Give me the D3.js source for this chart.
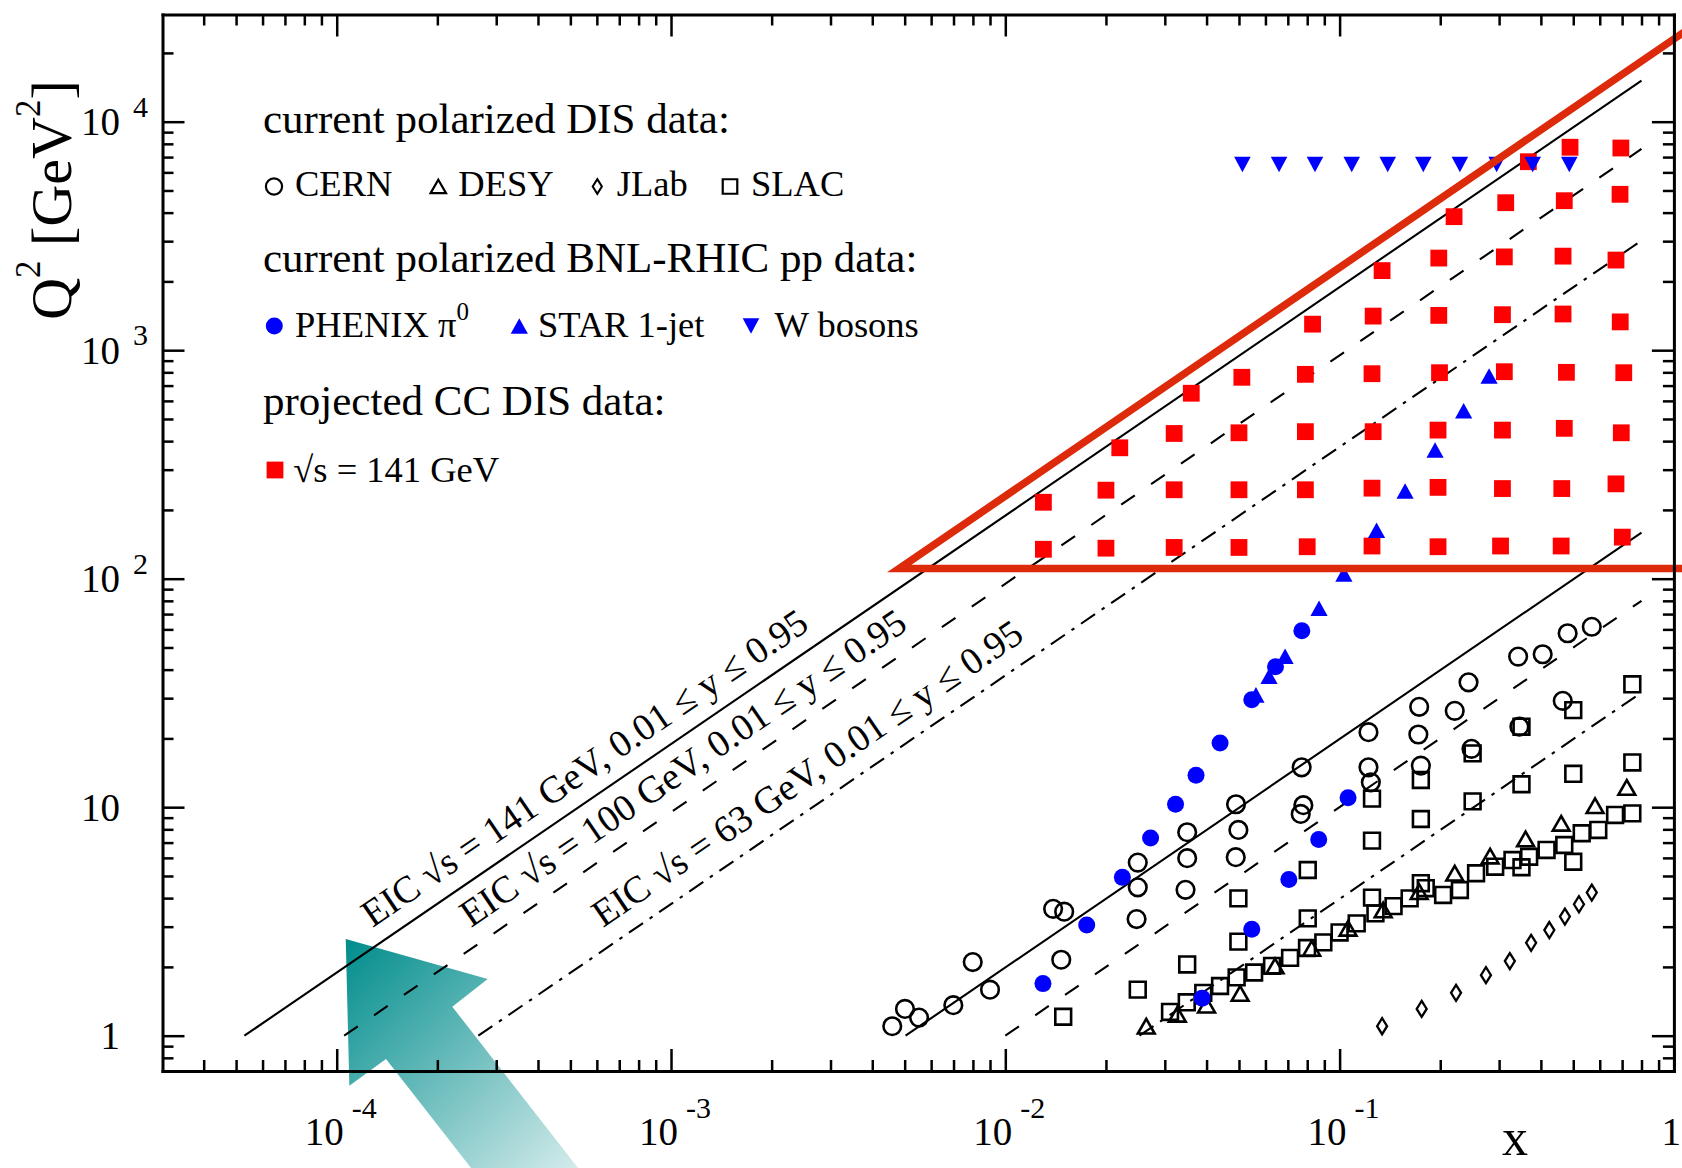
<!DOCTYPE html>
<html>
<head>
<meta charset="utf-8">
<script src="https://cdnjs.cloudflare.com/ajax/libs/d3/7.8.5/d3.min.js"></script>
<style>
body { margin: 0; background: #fff; }
svg text { font-family: "Liberation Serif", "Times New Roman", serif; fill: #000; }
</style>
</head>
<body>
<div id="chart"></div>
<script>
// values, each point is [x, Q^2 in GeV^2]
var cern = [
    [0.00459, 1.10], [0.00501, 1.31], [0.00552, 1.20], [0.00699, 1.36], [0.00799, 2.10], [0.0090, 1.59],
    [0.0139, 3.59], [0.0150, 3.49], [0.0147, 2.15],
    [0.0249, 5.72], [0.0249, 4.46], [0.0247, 3.24],
    [0.0350, 7.77], [0.0350, 5.98], [0.0346, 4.35],
    [0.0490, 10.3], [0.0498, 7.95], [0.0489, 6.04],
    [0.0770, 14.95], [0.0779, 10.2], [0.0765, 9.34],
    [0.122, 21.3], [0.122, 14.95], [0.124, 12.85],
    [0.173, 27.5], [0.172, 20.8], [0.175, 15.2],
    [0.243, 35.2], [0.221, 26.4], [0.248, 18.0],
    [0.342, 45.6], [0.405, 46.7], [0.345, 22.5],
    [0.481, 57.7], [0.568, 61.6], [0.465, 29.2]
];

var desy = [
    [0.0264, 1.10], [0.0327, 1.24], [0.0400, 1.36], [0.0504, 1.53], [0.0641, 2.02],
    [0.0825, 2.41], [0.106, 2.95], [0.135, 3.55], [0.173, 4.27], [0.221, 5.14],
    [0.282, 6.11], [0.360, 7.26], [0.460, 8.50], [0.581, 10.15], [0.723, 12.2]
];

var jlab = [
    [0.134, 1.10], [0.176, 1.31], [0.223, 1.54], [0.274, 1.84], [0.323, 2.12],
    [0.374, 2.55], [0.424, 2.90], [0.472, 3.32], [0.520, 3.76], [0.568, 4.23]
];

var slac = [
    [0.0149, 1.21], [0.0249, 1.59], [0.0350, 2.05], [0.0498, 2.58], [0.0498, 3.99],
    [0.0803, 5.31], [0.0803, 3.26], [0.125, 10.9], [0.125, 7.14], [0.125, 4.02],
    [0.175, 13.15], [0.175, 8.88], [0.175, 4.65], [0.250, 17.2], [0.250, 10.6],
    [0.350, 22.5], [0.350, 12.6], [0.350, 5.46], [0.500, 26.6], [0.500, 14.0],
    [0.500, 5.77], [0.751, 34.5], [0.751, 15.7],
    [0.0311, 1.27], [0.0349, 1.40], [0.0391, 1.54], [0.0439, 1.65], [0.0492, 1.80],
    [0.0555, 1.89], [0.0628, 2.02], [0.0711, 2.19], [0.0799, 2.42], [0.0894, 2.56],
    [0.100, 2.83], [0.1125, 3.10], [0.128, 3.43], [0.145, 3.69], [0.162, 3.99],
    [0.181, 4.42], [0.204, 4.13], [0.229, 4.34], [0.256, 5.14], [0.292, 5.49],
    [0.329, 5.87], [0.369, 6.07], [0.416, 6.50], [0.470, 6.83], [0.530, 7.69],
    [0.594, 7.95], [0.667, 9.25], [0.751, 9.40]
];

var phenix = [
    [0.01296, 1.69], [0.01752, 3.05], [0.0224, 4.93], [0.0272, 7.33], [0.0323, 10.3],
    [0.0372, 13.8], [0.0439, 19.1], [0.0546, 29.5], [0.0643, 41.2], [0.0771, 59.2],
    [0.0388, 1.46], [0.0546, 2.92], [0.0705, 4.82], [0.0866, 7.22], [0.106, 11.0]
];

var star = [
    [0.0562, 31.0], [0.0615, 37.4], [0.0687, 45.8], [0.0868, 74.2], [0.103, 105],
    [0.129, 163], [0.157, 242], [0.193, 366], [0.235, 543], [0.280, 771]
];

var wBosonX = [0.0512, 0.0659, 0.0844, 0.1087, 0.1393, 0.178, 0.229, 0.295, 0.378, 0.4865];
var wBosonQ2 = 6500;

var cc141 = [
    [0.489, 7730], [0.694, 7670],
    [0.367, 6680],
    [0.314, 4420], [0.470, 4510], [0.690, 4810],
    [0.220, 3840],
    [0.198, 2530], [0.311, 2560], [0.466, 2580], [0.671, 2480],
    [0.134, 2230],
    [0.083, 1300], [0.126, 1410], [0.198, 1420], [0.307, 1430], [0.466, 1440], [0.691, 1330],
    [0.051, 761], [0.079, 784], [0.125, 789], [0.199, 797], [0.311, 805], [0.477, 800], [0.708, 797],
    [0.036, 648],
    [0.032, 432], [0.050, 435], [0.079, 440], [0.126, 440], [0.197, 447], [0.307, 447], [0.470, 455], [0.696, 435],
    [0.022, 374],
    [0.020, 244], [0.032, 245], [0.050, 245], [0.079, 245], [0.125, 249], [0.197, 251], [0.307, 248], [0.462, 248], [0.671, 260],
    [0.013, 216],
    [0.013, 134.5], [0.020, 136], [0.032, 137], [0.050, 137], [0.080, 138], [0.125, 139], [0.197, 138], [0.303, 139], [0.460, 139], [0.701, 152]
];

// EIC kinematic limits Q2 = s x y
var sqrtS = [141, 100, 63];
var yCuts = [0.01, 0.95];
var xLineEnd = 0.8;
var eicLabels = [
    "EIC \u221As = 141 GeV, 0.01 \u2264 y \u2264 0.95",
    "EIC \u221As = 100 GeV, 0.01 \u2264 y \u2264 0.95",
    "EIC \u221As = 63 GeV, 0.01 \u2264 y \u2264 0.95"
];
var eicLabelX = [1.28e-4, 2.52e-4, 6.26e-4];
var eicLabelQ2 = 2.96;

// red region drawn by hand on the figure
var regionSlope = 23000;
var regionQ2Min = 110.7;
var regionXEnd = 1.1;

// big teal arrow (outline in data space)
var arrowX = [1.064e-4, 2.829e-4, 2.217e-4, 6.26e-4, 2.996e-4, 1.404e-4, 1.091e-4];
var arrowQ2 = [2.65, 1.77, 1.339, 0.191, 0.191, 0.791, 0.604];

var xTickVals = [1e-4, 1e-3, 1e-2, 1e-1, 1];
var xTickExp = ["-4", "-3", "-2", "-1", ""];
var yTickVals = [1, 10, 100, 1000, 10000];
var yTickBase = ["1", "10", "10", "10", "10"];
var yTickExp = ["", "", "2", "3", "4"];

var legendHeaders = ["current polarized DIS data:", "current polarized BNL-RHIC pp data:", "projected CC DIS data:"];
var legendDis = ["CERN", "DESY", "JLab", "SLAC"];
var legendRhic = ["PHENIX \u03C0", "STAR 1-jet", "W bosons"];
var legendCC = ["\u221As = 141 GeV"];


KinematicPlot = function(_parent) {
    this.parent = _parent;
    this.init();
}

KinematicPlot.prototype.init = function() {
    var vis = this;
    vis.width = 1682;
    vis.height = 1168;

    vis.svg = d3.select(vis.parent).append("svg")
        .attr("width", vis.width)
        .attr("height", vis.height);

    vis.x = d3.scaleLog().domain([3.012e-5, 1]).range([162.5, 1673.9]);
    vis.y = d3.scaleLog().domain([0.7006, 29450]).range([1071, 14.5]);

    vis.drawArrow();
    vis.drawLines();
    vis.drawPoints();
    vis.drawRegion();
    vis.drawAxes();
    vis.drawLegend();
}

KinematicPlot.prototype.markerPath = function(type) {
    var p = d3.path();
    if (type == "circle") {
        p.moveTo(8.8, 0); p.arc(0, 0, 8.8, 0, 2 * Math.PI);
    } else if (type == "dot") {
        p.moveTo(8.5, 0); p.arc(0, 0, 8.5, 0, 2 * Math.PI);
    } else if (type == "square") {
        p.rect(-7.9, -7.9, 15.8, 15.8);
    } else if (type == "block") {
        p.rect(-8.4, -8.4, 16.8, 16.8);
    } else if (type == "tri") {
        p.moveTo(0, -7.3); p.lineTo(8.4, 7.3); p.lineTo(-8.4, 7.3); p.closePath();
    } else if (type == "triFill") {
        p.moveTo(0, -7.8); p.lineTo(8.6, 7.8); p.lineTo(-8.6, 7.8); p.closePath();
    } else if (type == "triDown") {
        p.moveTo(-8.3, -7.8); p.lineTo(8.3, -7.8); p.lineTo(0, 7.8); p.closePath();
    } else if (type == "diamond") {
        p.moveTo(0, -8); p.lineTo(5, 0); p.lineTo(0, 8); p.lineTo(-5, 0); p.closePath();
    }
    return p.toString();
}

KinematicPlot.prototype.styleMarker = function(sel, s) {
    sel.attr("d", this.markerPath(s.type))
        .style("fill", s.fill)
        .style("stroke", s.stroke)
        .style("stroke-width", s.strokeWidth);
}

KinematicPlot.prototype.drawArrow = function() {
    var vis = this;
    var pts = arrowX.map(function(d, i) { return [vis.x(d), vis.y(arrowQ2[i])]; });

    var grad = vis.svg.append("defs").append("linearGradient")
        .attr("id", "arrowGrad")
        .attr("gradientUnits", "userSpaceOnUse")
        .attr("x1", pts[0][0]).attr("y1", pts[0][1])
        .attr("x2", pts[3][0]).attr("y2", pts[3][1]);
    grad.append("stop").attr("offset", 0).attr("stop-color", "#008c8c");
    grad.append("stop").attr("offset", 1).attr("stop-color", "#eef7f7");

    vis.svg.append("path")
        .attr("d", d3.line()(pts) + "Z")
        .style("fill", "url(#arrowGrad)")
        .style("stroke", "none");
}

KinematicPlot.prototype.drawLines = function() {
    var vis = this;
    var dashes = ["none", "16.5,19.7", "17,8,3.5,8"];
    var line = d3.line()
        .x(function(d) { return vis.x(d[0]); })
        .y(function(d) { return vis.y(d[1]); });
    var g = vis.svg.append("g");

    sqrtS.forEach(function(rs, i) {
        var s = rs * rs;
        yCuts.forEach(function(yc) {
            var pts = [[1 / (s * yc), 1], [xLineEnd, s * yc * xLineEnd]];
            g.append("path")
                .attr("d", line(pts))
                .style("fill", "none")
                .style("stroke", "#000")
                .style("stroke-width", 2.1)
                .style("stroke-dasharray", dashes[i]);
        });
    });

    // labels run parallel to the lines
    var angle = Math.atan2(vis.y(10) - vis.y(1), vis.x(1e-3) - vis.x(1e-4)) * 180 / Math.PI;
    eicLabels.forEach(function(t, i) {
        g.append("text")
            .attr("transform", "translate(" + vis.x(eicLabelX[i]) + "," + vis.y(eicLabelQ2) + ") rotate(" + angle + ")")
            .style("font-size", "38px")
            .text(t);
    });
}

KinematicPlot.prototype.drawPoints = function() {
    var vis = this;
    var series = [
        {data: slac, type: "square", fill: "none", stroke: "#000", strokeWidth: 2.6},
        {data: cern, type: "circle", fill: "none", stroke: "#000", strokeWidth: 2.6},
        {data: desy, type: "tri", fill: "none", stroke: "#000", strokeWidth: 2.6},
        {data: jlab, type: "diamond", fill: "none", stroke: "#000", strokeWidth: 2.3},
        {data: cc141, type: "block", fill: "#ff0000", stroke: "none", strokeWidth: 0},
        {data: star, type: "triFill", fill: "#0000ff", stroke: "none", strokeWidth: 0},
        {data: phenix, type: "dot", fill: "#0000ff", stroke: "none", strokeWidth: 0},
        {data: wBosonX.map(function(d) { return [d, wBosonQ2]; }), type: "triDown", fill: "#0000ff", stroke: "none", strokeWidth: 0}
    ];

    series.forEach(function(s) {
        vis.svg.append("g").selectAll("path")
            .data(s.data)
            .enter()
            .append("path")
            .attr("transform", function(d) { return "translate(" + vis.x(d[0]) + "," + vis.y(d[1]) + ")"; })
            .call(function(sel) { vis.styleMarker(sel, s); });
    });
}

KinematicPlot.prototype.drawRegion = function() {
    var vis = this;
    var corner = regionQ2Min / regionSlope;
    var pts = [
        [vis.x(regionXEnd), vis.y(regionSlope * regionXEnd)],
        [vis.x(corner), vis.y(regionQ2Min)],
        [vis.x(regionXEnd), vis.y(regionQ2Min)]
    ];
    vis.svg.append("path")
        .attr("d", d3.line()(pts))
        .style("fill", "none")
        .style("stroke", "#dd2a0a")
        .style("stroke-width", 7.5)
        .style("stroke-linejoin", "miter");
}

KinematicPlot.prototype.drawAxes = function() {
    var vis = this;
    var xr = vis.x.range(), yr = vis.y.range();
    var xTicks = vis.x.ticks();
    var yTicks = vis.y.ticks();

    function tickLen(d) {
        var l = Math.log10(d);
        return Math.abs(l - Math.round(l)) < 1e-6 ? 22 : 11;
    }

    var axes = [
        {axis: d3.axisBottom(vis.x).tickValues(xTicks), pos: "translate(0," + yr[0] + ")", attr: "y2", sign: -1},
        {axis: d3.axisTop(vis.x).tickValues(xTicks), pos: "translate(0," + yr[1] + ")", attr: "y2", sign: 1},
        {axis: d3.axisLeft(vis.y).tickValues(yTicks), pos: "translate(" + xr[0] + ",0)", attr: "x2", sign: 1},
        {axis: d3.axisRight(vis.y).tickValues(yTicks), pos: "translate(" + xr[1] + ",0)", attr: "x2", sign: -1}
    ];

    axes.forEach(function(a) {
        var g = vis.svg.append("g")
            .attr("transform", a.pos)
            .call(a.axis.tickFormat("").tickSizeOuter(0));
        g.select(".domain").style("stroke", "#000").style("stroke-width", 3).style("stroke-linecap", "square");
        g.selectAll(".tick line")
            .attr(a.attr, function(d) { return a.sign * tickLen(d); })
            .style("stroke", "#000")
            .style("stroke-width", 2.5);
    });

    // tick labels, 10 with a raised exponent
    var lab = vis.svg.append("g");
    xTickVals.forEach(function(v, i) {
        var px = vis.x(v);
        if (xTickExp[i] == "") {
            // last label sits on the page edge, keep it inside
            lab.append("text")
                .attr("x", Math.min(px + 9, vis.width - 1))
                .attr("y", 1145)
                .attr("text-anchor", "end")
                .style("font-size", "39px")
                .text("1");
        } else {
            lab.append("text")
                .attr("x", px + 7)
                .attr("y", 1145)
                .attr("text-anchor", "end")
                .style("font-size", "39px")
                .text("10");
            lab.append("text")
                .attr("x", px + 15)
                .attr("y", 1118)
                .style("font-size", "30px")
                .text(xTickExp[i]);
        }
    });

    yTickVals.forEach(function(v, i) {
        var py = vis.y(v);
        lab.append("text")
            .attr("x", 120)
            .attr("y", py + 13.5)
            .attr("text-anchor", "end")
            .style("font-size", "39px")
            .text(yTickBase[i]);
        if (yTickExp[i] != "") {
            lab.append("text")
                .attr("x", 133)
                .attr("y", py - 5)
                .style("font-size", "30px")
                .text(yTickExp[i]);
        }
    });

    lab.append("text")
        .attr("x", 1515)
        .attr("y", 1155)
        .attr("text-anchor", "middle")
        .style("font-size", "52px")
        .text("x");

    var yt = lab.append("text")
        .attr("transform", "translate(71,200) rotate(-90)")
        .attr("text-anchor", "middle")
        .style("font-size", "58px");
    yt.append("tspan").text("Q");
    yt.append("tspan").attr("dy", -31).style("font-size", "35px").text("2");
    yt.append("tspan").attr("dy", 31).text("\u00A0[GeV");
    yt.append("tspan").attr("dy", -31).style("font-size", "35px").text("2");
    yt.append("tspan").attr("dy", 31).text("]");
}

KinematicPlot.prototype.drawLegend = function() {
    var vis = this;
    var g = vis.svg.append("g");

    var headerY = [132.7, 271.7, 415];
    legendHeaders.forEach(function(t, i) {
        g.append("text").attr("x", 263).attr("y", headerY[i]).style("font-size", "43px").text(t);
    });

    var disStyle = [
        {type: "circle", fill: "none", stroke: "#000", strokeWidth: 2.4},
        {type: "tri", fill: "none", stroke: "#000", strokeWidth: 2.4},
        {type: "diamond", fill: "none", stroke: "#000", strokeWidth: 2.2},
        {type: "square", fill: "none", stroke: "#000", strokeWidth: 2.4}
    ];
    var disSym = [274, 438.3, 597.3, 730];
    var disTxt = [295, 458.3, 616.7, 751];
    legendDis.forEach(function(t, i) {
        g.append("path").attr("transform", "translate(" + disSym[i] + ",186.5) scale(0.92)")
            .call(function(sel) { vis.styleMarker(sel, disStyle[i]); });
        g.append("text").attr("x", disTxt[i]).attr("y", 196).style("font-size", "36.5px").text(t);
    });

    var rhicStyle = [
        {type: "dot", fill: "#0000ff", stroke: "none", strokeWidth: 0},
        {type: "triFill", fill: "#0000ff", stroke: "none", strokeWidth: 0},
        {type: "triDown", fill: "#0000ff", stroke: "none", strokeWidth: 0}
    ];
    var rhicSym = [274.3, 519.3, 751];
    var rhicTxt = [295, 538, 774.5];
    legendRhic.forEach(function(t, i) {
        g.append("path").attr("transform", "translate(" + rhicSym[i] + ",326)")
            .call(function(sel) { vis.styleMarker(sel, rhicStyle[i]); });
        var tx = g.append("text").attr("x", rhicTxt[i]).attr("y", 336.7).style("font-size", "36.5px").text(t);
        if (i == 0) {
            tx.append("tspan").attr("dy", -17).style("font-size", "25px").text("0");
        }
    });

    g.append("path").attr("transform", "translate(275,470)")
        .call(function(sel) { vis.styleMarker(sel, {type: "block", fill: "#ff0000", stroke: "none", strokeWidth: 0}); });
    g.append("text").attr("x", 293.3).attr("y", 481.7).style("font-size", "36.5px").text(legendCC[0]);
}

new KinematicPlot("#chart");
</script>
</body>
</html>
